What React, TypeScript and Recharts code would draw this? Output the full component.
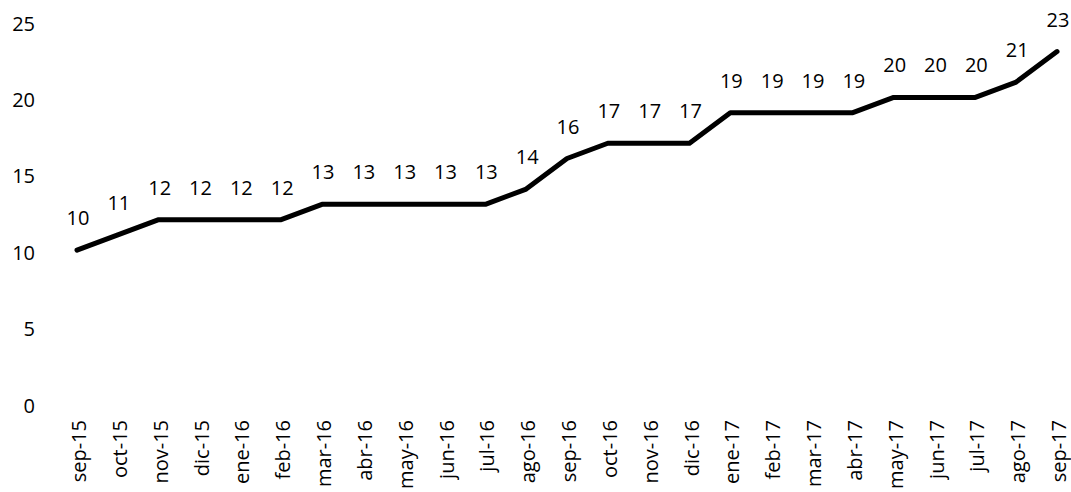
import React from 'react';
import { LineChart, Line, XAxis, YAxis, LabelList } from 'recharts';

const months = [
  'sep-15', 'oct-15', 'nov-15', 'dic-15', 'ene-16', 'feb-16', 'mar-16', 'abr-16', 'may-16',
  'jun-16', 'jul-16', 'ago-16', 'sep-16', 'oct-16', 'nov-16', 'dic-16', 'ene-17', 'feb-17',
  'mar-17', 'abr-17', 'may-17', 'jun-17', 'jul-17', 'ago-17', 'sep-17',
];
const values = [10, 11, 12, 12, 12, 12, 13, 13, 13, 13, 13, 14, 16, 17, 17, 17, 19, 19, 19, 19, 20, 20, 20, 21, 23];
const yTicks = [0, 5, 10, 15, 20, 25];

const data = months.map((m, i) => ({ month: m, value: values[i] }));

const FONT = '"Open Sans", sans-serif';

const XTick = (props: any) => {
  const { x, y, payload } = props;
  return (
    <g transform={`translate(${x + 2},${y})`}>
      <text transform="rotate(-90)" textAnchor="end" dy="0.35em" fontSize={20} fill="#000" fontFamily={FONT}>
        {payload.value}
      </text>
    </g>
  );
};

const YTick = (props: any) => {
  const { x, y, payload } = props;
  return (
    <text x={x} y={y + 2} textAnchor="end" dominantBaseline="central" fontSize={20} fill="#000" fontFamily={FONT}>
      {payload.value}
    </text>
  );
};

const PointLabel = (props: any) => {
  const { x, y, value } = props;
  return (
    <text x={x + 1} y={y - 25} textAnchor="middle" fontSize={20} fill="#000" fontFamily={FONT}>
      {value}
    </text>
  );
};

export default function App() {
  return (
    <div style={{ position: 'absolute', left: 0, top: 0, background: '#fff' }}>
      <LineChart width={1071} height={492} data={data} margin={{ top: 21, right: 14, bottom: 0, left: 0 }}>
        <XAxis
          dataKey="month"
          axisLine={false}
          tickLine={false}
          tickSize={0}
          tickMargin={17}
          interval={0}
          height={89}
          tick={<XTick />}
        />
        <YAxis
          domain={[0, 25]}
          ticks={yTicks}
          axisLine={false}
          tickLine={false}
          tickSize={0}
          tickMargin={42}
          width={77}
          tick={<YTick />}
        />
        <Line
          type="linear"
          dataKey="value"
          stroke="#000"
          strokeWidth={5}
          strokeLinejoin="round"
          strokeLinecap="round"
          dot={false}
          isAnimationActive={false}
        >
          <LabelList dataKey="value" content={<PointLabel />} />
        </Line>
      </LineChart>
    </div>
  );
}
